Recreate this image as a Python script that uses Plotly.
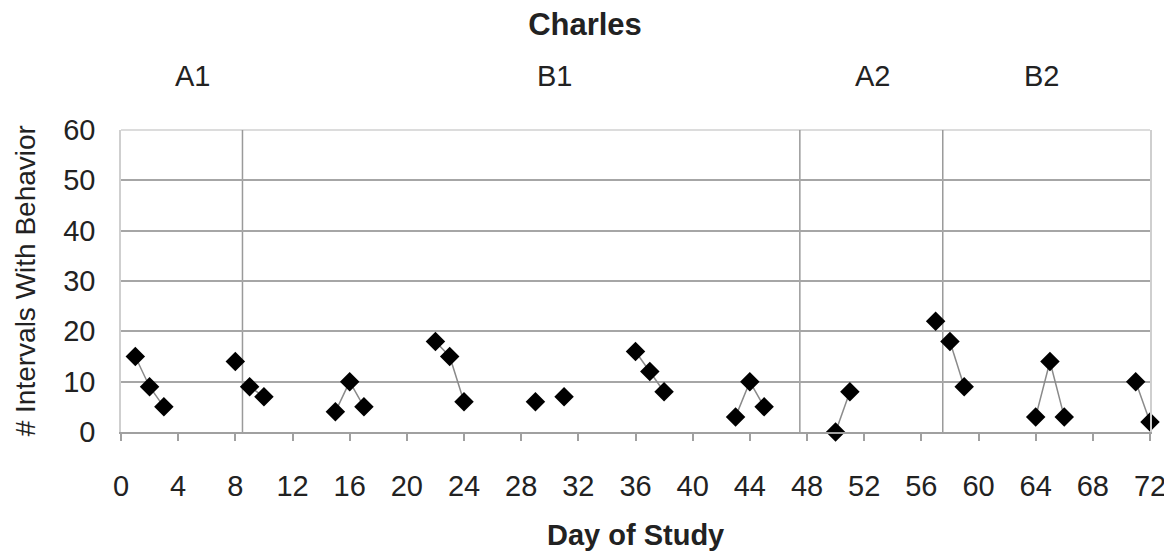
import plotly.graph_objects as go

# ---- data ----
days = [1, 2, 3, 8,
        9, 10, 15, 16, 17, 22, 23, 24, 29, 31, 36, 37, 38, 43, 44, 45,
        50, 51, 57,
        58, 59, 64, 65, 66, 71, 72]
intervals = [15, 9, 5, 14,
             9, 7, 4, 10, 5, 18, 15, 6, 6, 7, 16, 12, 8, 3, 10, 5,
             0, 8, 22,
             18, 9, 3, 14, 3, 10, 2]
phase_changes = [8.5, 47.5, 57.5]
phase_names = ["A1", "B1", "A2", "B2"]
phase_label_x = [5.0, 30.3, 52.6, 64.4]
x_ticks = list(range(0, 73, 4))
y_ticks = [0, 10, 20, 30, 40, 50, 60]

FONT = "Liberation Sans, Arial, sans-serif"

# page body adds an 8px offset; figure sized to fit the window
W, H = 1164, 547

fig = go.Figure()

bounds = [0] + phase_changes + [73]
for i in range(len(bounds) - 1):
    lo, hi = bounds[i], bounds[i + 1]
    seg = {d: v for d, v in zip(days, intervals) if lo < d < hi}
    if not seg:
        continue
    xs = list(range(min(seg), max(seg) + 1))
    ys = [seg.get(d) for d in xs]
    fig.add_trace(go.Scatter(
        x=xs, y=ys, mode="lines+markers", connectgaps=False,
        line=dict(color="#8a8a8a", width=1.5),
        marker=dict(symbol="diamond", size=15, color="black"),
        showlegend=False, cliponaxis=False,
    ))

for pc in phase_changes:
    fig.add_shape(type="line", xref="x", yref="y", x0=pc, x1=pc, y0=0, y1=60,
                  line=dict(color="#9a9a9a", width=1.5), layer="below")

# top border
fig.add_shape(type="line", xref="paper", yref="paper", x0=0, x1=1, y0=1, y1=1,
              line=dict(color="#d0d0d0", width=1.5), layer="below")

for name, lx in zip(phase_names, phase_label_x):
    fig.add_annotation(text=name, x=lx, xref="x", y=1.179, yref="paper",
                       xanchor="center", yanchor="middle", showarrow=False,
                       font=dict(family=FONT, size=29, color="#222"))

fig.add_annotation(text="<b>Day of Study</b>", x=0.5, xref="paper", y=-0.341, yref="paper",
                   xanchor="center", yanchor="middle", showarrow=False,
                   font=dict(family=FONT, size=29, color="#222"))
fig.add_annotation(text="# Intervals With Behavior", x=-0.093, xref="paper", y=0.5, yref="paper",
                   xanchor="center", yanchor="middle", showarrow=False, textangle=-90,
                   font=dict(family=FONT, size=28, color="#222"))

fig.update_layout(
    width=W, height=H,
    margin=dict(l=113, r=22, t=122, b=123),
    paper_bgcolor="white", plot_bgcolor="white",
    title=dict(text="<b>Charles</b>", x=577 / W, xref="container", xanchor="center",
               y=1 - 16 / H, yref="container", yanchor="middle",
               font=dict(family=FONT, size=31, color="#222")),
    xaxis=dict(range=[0, 72], tickvals=x_ticks, showgrid=False, zeroline=False,
               showline=True, linecolor="#a0a0a0", linewidth=1.5,
               ticks="outside", ticklen=7, tickcolor="#a0a0a0", tickwidth=1.5,
               ticklabelstandoff=20, automargin=False,
               tickfont=dict(family=FONT, size=29, color="#222")),
    yaxis=dict(range=[0, 60], tickvals=y_ticks, showgrid=True, gridcolor="#a6a6a6",
               gridwidth=2, zeroline=False, showline=True, linecolor="#cfcfcf",
               linewidth=1.5, mirror=True, ticks="", ticklabelstandoff=18,
               automargin=False,
               tickfont=dict(family=FONT, size=29, color="#222")),
)

fig.write_html("out.html")
